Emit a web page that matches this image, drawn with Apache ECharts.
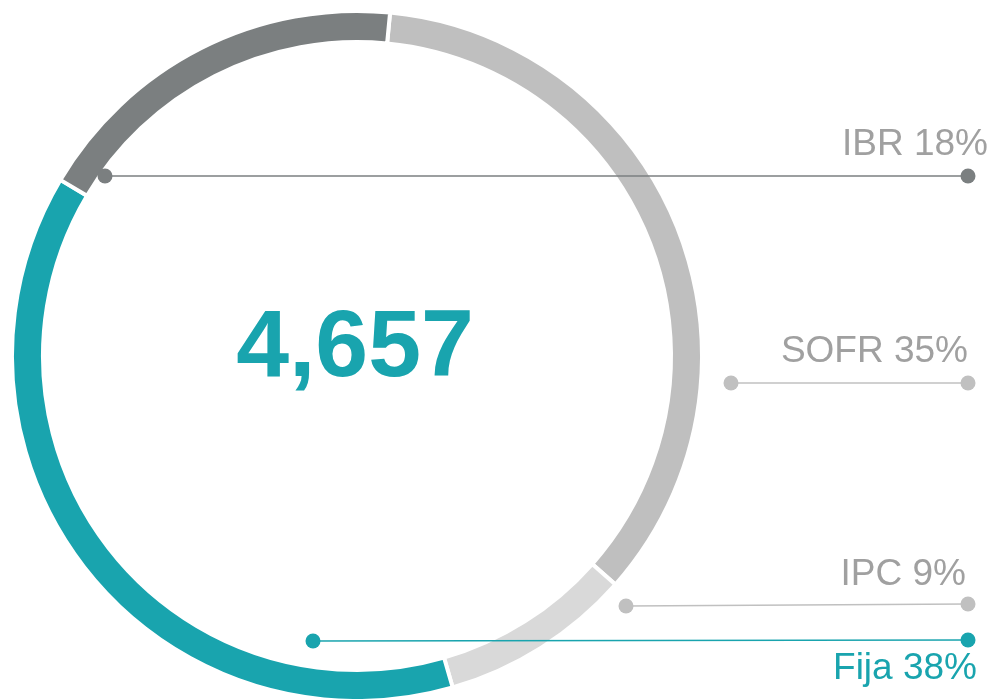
<!DOCTYPE html>
<html>
<head>
<meta charset="utf-8">
<script src="https://cdn.jsdelivr.net/npm/echarts@6/dist/echarts.min.js"></script>
<style>
html,body{margin:0;padding:0;background:#fff;}
#chart{width:994px;height:699px;}
</style>
</head>
<body>
<div id="chart"></div>
<script>
// ---- data ----
var categories = ['SOFR', 'IPC', 'Fija', 'IBR'];
var shares = [35, 9, 38, 18];
var totalLabel = ['4,657'];

// ---- styles / layout ----
var sliceColors = ['#bfbfbf', '#d9d9d9', '#19a4ae', '#7b7f80'];
var textColors = ['#a0a0a0', '#a0a0a0', '#19a4ae', '#a0a0a0'];
var lineColors = ['#c0c0c0', '#c0c0c0', '#19a4ae', '#7b7f80'];
// annotation layout per category: [lineStartX, lineStartY, lineEndX, lineEndY, textRightX, textMidY]
var annot = {
  SOFR: [731, 383, 968, 383, 968, 352],
  IPC:  [626, 606, 968, 604, 966, 575],
  Fija: [313, 641, 968, 640, 977, 669],
  IBR:  [105, 176, 968, 176, 988, 145]
};

var chart = echarts.init(document.getElementById('chart'), null, {renderer: 'canvas'});

var graphics = [];
categories.forEach(function (name, i) {
  var a = annot[name];
  graphics.push({
    type: 'line', z: 10,
    shape: {x1: a[0], y1: a[1], x2: a[2], y2: a[3]},
    style: {stroke: lineColors[i], lineWidth: 1.5}
  });
  graphics.push({type: 'circle', z: 11, shape: {cx: a[0], cy: a[1], r: 7.5}, style: {fill: lineColors[i]}});
  graphics.push({type: 'circle', z: 11, shape: {cx: a[2], cy: a[3], r: 7.5}, style: {fill: lineColors[i]}});
  graphics.push({
    type: 'text', z: 12,
    style: {
      text: name + ' ' + shares[i] + '%',
      x: a[4], y: a[5],
      align: 'right', verticalAlign: 'middle',
      fill: textColors[i],
      font: '37px "Liberation Sans", Arial, sans-serif'
    }
  });
});
graphics.push({
  type: 'text', z: 12,
  style: {
    text: totalLabel[0],
    x: 355, y: 350,
    align: 'center', verticalAlign: 'middle',
    fill: '#19a4ae',
    font: 'bold 95px "Liberation Sans", Arial, sans-serif'
  }
});

chart.setOption({
  backgroundColor: '#ffffff',
  animation: false,
  series: [{
    type: 'pie',
    center: [357, 356],
    radius: [314, 345],
    startAngle: 84.5,
    clockwise: true,
    label: {show: false},
    labelLine: {show: false},
    emphasis: {disabled: true},
    itemStyle: {borderColor: '#ffffff', borderWidth: 4},
    data: categories.map(function (c, i) {
      return {name: c, value: shares[i], itemStyle: {color: sliceColors[i]}};
    })
  }],
  graphic: graphics
});
</script>
</body>
</html>
